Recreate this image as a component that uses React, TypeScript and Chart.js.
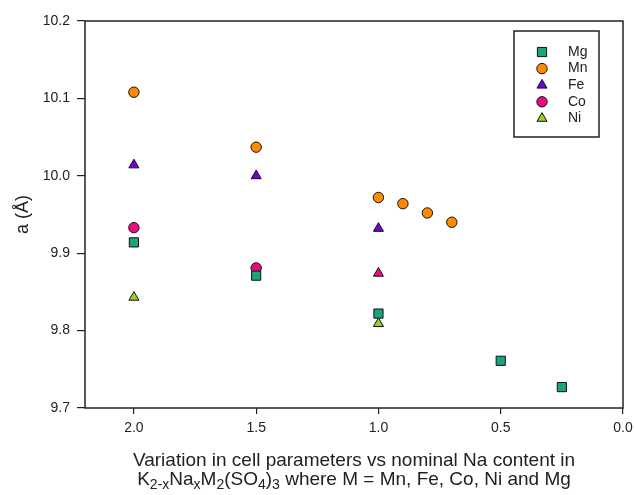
import React, { useEffect, useRef } from 'react';
import { Chart, registerables } from 'chart.js';
import { drawPoint } from 'chart.js/helpers';

Chart.register(...registerables);

// Lattice parameter a (Å) against nominal Na content x
const mgX = [2.0, 1.5, 1.0, 0.5, 0.25];
const mgA = [9.914, 9.871, 9.822, 9.761, 9.727];
const mnX = [2.0, 1.5, 1.0, 0.9, 0.8, 0.7];
const mnA = [10.108, 10.037, 9.972, 9.964, 9.952, 9.940];
const feX = [2.0, 1.5, 1.0];
const feA = [10.014, 10.0, 9.932];
const coX = [2.0, 1.5, 1.0];
const coA = [9.933, 9.881, 9.874];
const niX = [2.0, 1.0];
const niA = [9.843, 9.809];

const xTicks = [2.0, 1.5, 1.0, 0.5, 0.0];
const yTicks = [9.7, 9.8, 9.9, 10.0, 10.1, 10.2];

const FONT = "'Liberation Sans', Arial, sans-serif";
const INK = '#222';

const toPoints = (xs: number[], ys: number[]) => xs.map((x, i) => ({ x, y: ys[i] }));
const first = (v: any) => (Array.isArray(v) ? v[0] : v);

// Boxed legend in the upper right of the plot area
const boxedLegend = {
  id: 'boxedLegend',
  afterDraw(chart: any) {
    const { ctx, chartArea } = chart;
    const x0 = chartArea.right - 109;
    const y0 = chartArea.top + 10;
    ctx.save();
    ctx.strokeStyle = INK;
    ctx.lineWidth = 1.5;
    ctx.strokeRect(x0, y0, 85, 106);
    ctx.font = `14px ${FONT}`;
    ctx.textBaseline = 'middle';
    ctx.fillStyle = INK;
    chart.data.datasets.forEach((ds: any, i: number) => {
      const cy = y0 + 21 + i * 16.6;
      ctx.fillStyle = ds.backgroundColor;
      ctx.strokeStyle = '#111';
      ctx.lineWidth = 1;
      drawPoint(ctx, { pointStyle: first(ds.pointStyle), radius: first(ds.pointRadius), rotation: 0, borderWidth: 1 }, x0 + 28, cy);
      ctx.fillStyle = INK;
      ctx.fillText(ds.label, x0 + 54, cy);
    });
    ctx.restore();
  },
};

// Frame around the plot area
const frame = {
  id: 'frame',
  afterDatasetsDraw(chart: any) {
    const { ctx, chartArea } = chart;
    ctx.save();
    ctx.strokeStyle = INK;
    ctx.lineWidth = 1.5;
    ctx.strokeRect(chartArea.left, chartArea.top, chartArea.right - chartArea.left, chartArea.bottom - chartArea.top);
    ctx.restore();
  },
};

// Two-line x-axis caption with chemical-formula subscripts
const xCaption = {
  id: 'xCaption',
  afterDraw(chart: any) {
    const { ctx, chartArea } = chart;
    const cx = (chartArea.left + chartArea.right) / 2;
    ctx.save();
    ctx.fillStyle = INK;
    ctx.textBaseline = 'alphabetic';
    ctx.textAlign = 'left';
    const big = `19px ${FONT}`;
    const small = `14px ${FONT}`;
    const line1 = 'Variation in cell parameters vs nominal Na content in';
    ctx.font = big;
    const w1 = ctx.measureText(line1).width;
    ctx.fillText(line1, cx - w1 / 2, chartArea.bottom + 58);

    const parts: [string, boolean][] = [
      ['K', false], ['2-x', true], ['Na', false], ['x', true], ['M', false], ['2', true],
      ['(SO', false], ['4', true], [')', false], ['3', true], [' where M = Mn, Fe, Co, Ni and Mg', false],
    ];
    let total = 0;
    parts.forEach(([t, sub]) => {
      ctx.font = sub ? small : big;
      total += ctx.measureText(t).width;
    });
    let x = cx - total / 2;
    const base = chartArea.bottom + 77;
    parts.forEach(([t, sub]) => {
      ctx.font = sub ? small : big;
      ctx.fillText(t, x, sub ? base + 4 : base);
      x += ctx.measureText(t).width;
    });
    ctx.restore();
  },
};

export default function App() {
  const ref = useRef<HTMLCanvasElement>(null);

  useEffect(() => {
    if (!ref.current) return;
    const chart = new Chart(ref.current, {
      type: 'scatter',
      data: {
        datasets: [
          { label: 'Mg', data: toPoints(mgX, mgA), pointStyle: 'rect', pointRadius: 6.5, backgroundColor: '#1aa37f', borderColor: '#111', borderWidth: 1 },
          { label: 'Mn', data: toPoints(mnX, mnA), pointStyle: 'circle', pointRadius: 5.2, backgroundColor: '#ff8a00', borderColor: '#111', borderWidth: 1 },
          { label: 'Fe', data: toPoints(feX, feA), pointStyle: 'triangle', pointRadius: 5.8, backgroundColor: '#7200e6', borderColor: '#111', borderWidth: 1 },
          { label: 'Co', data: toPoints(coX, coA), pointStyle: ['circle', 'circle', 'triangle'], pointRadius: [5.2, 5.2, 5.8], backgroundColor: '#ec0b7e', borderColor: '#111', borderWidth: 1 },
          { label: 'Ni', data: toPoints(niX, niA), pointStyle: 'triangle', pointRadius: 5.8, backgroundColor: '#99d12c', borderColor: '#111', borderWidth: 1 },
        ] as any,
      },
      options: {
        animation: false,
        responsive: true,
        maintainAspectRatio: false,
        layout: { padding: { top: 21, right: 12, left: 0, bottom: 0 } },
        plugins: { legend: { display: false }, tooltip: { enabled: false } },
        scales: {
          x: {
            type: 'linear',
            reverse: true,
            min: 0,
            max: 2.2,
            afterBuildTicks: (s: any) => { s.ticks = xTicks.map((v) => ({ value: v })); },
            afterFit: (s: any) => { s.height = 87; s.paddingLeft = 0; s.paddingRight = 0; },
            ticks: { callback: (v: any) => Number(v).toFixed(1), color: INK, font: { size: 14, family: FONT }, padding: 6, maxRotation: 0 },
            grid: { drawOnChartArea: false, drawTicks: true, tickLength: 6, color: INK, lineWidth: 1.2 },
            border: { display: false },
          },
          y: {
            type: 'linear',
            min: 9.7,
            max: 10.2,
            afterBuildTicks: (s: any) => { s.ticks = yTicks.map((v) => ({ value: v })); },
            afterFit: (s: any) => { s.width = 85; s.paddingTop = 0; s.paddingBottom = 0; },
            ticks: { callback: (v: any) => Number(v).toFixed(1), color: INK, font: { size: 14, family: FONT }, padding: 7 },
            grid: { drawOnChartArea: false, drawTicks: true, tickLength: 8, color: INK, lineWidth: 1.2 },
            border: { display: false },
            title: { display: true, text: 'a (Å)', color: INK, font: { size: 18, family: FONT }, padding: { top: 12, bottom: 0 } },
          },
        },
      },
      plugins: [frame, boxedLegend, xCaption],
    });
    return () => chart.destroy();
  }, []);

  return (
    <div style={{ position: 'fixed', left: 0, top: 0, width: 635, height: 495, background: '#fff' }}>
      <canvas ref={ref} />
    </div>
  );
}
